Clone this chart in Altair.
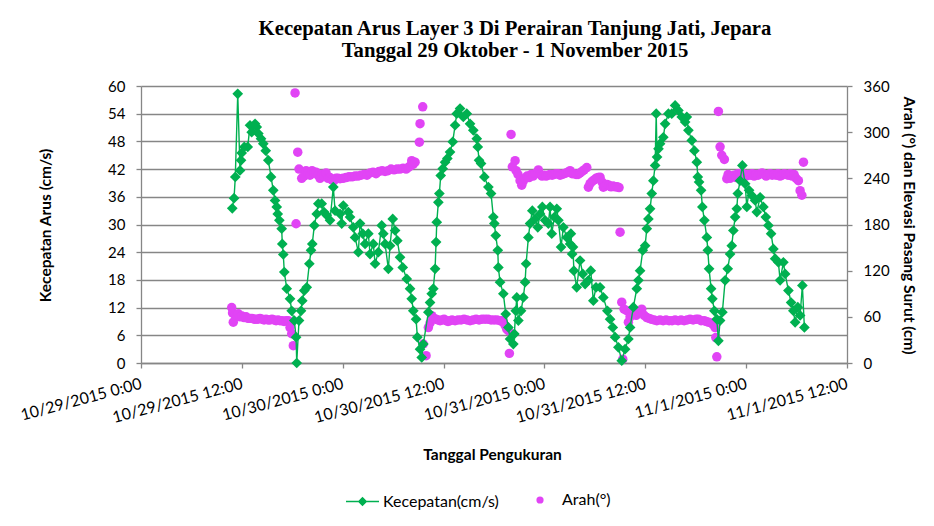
import altair as alt
import pandas as pd

TITLE_1 = "Kecepatan Arus Layer 3 Di Perairan Tanjung Jati, Jepara"
TITLE_2 = "Tanggal 29 Oktober - 1 November 2015"
X_TITLE = "Tanggal Pengukuran"
Y_LEFT_TITLE = "Kecepatan Arus (cm/s)"
Y_RIGHT_TITLE = "Arah (°) dan Elevasi Pasang Surut (cm)"
SERIES = ["Kecepatan(cm/s)", "Arah(°)"]
START = "2015-10-29 00:00"
X_TICK_HOURS = [0, 12, 24, 36, 48, 60, 72, 84]
LEFT_TICKS = list(range(0, 61, 6))
RIGHT_TICKS = list(range(0, 361, 60))

# hours since 10/29/2015 0:00 and current speed (cm/s)
speed_hours = [
    10.86, 11.07, 11.22, 11.51, 11.78, 11.90, 11.98, 12.29, 12.70, 12.97,
    13.17, 13.57, 13.77, 13.96, 14.28, 14.55, 14.84, 15.15, 15.47, 15.74,
    15.95, 16.15, 16.27, 16.46, 16.74, 16.81, 16.93, 17.05, 17.34, 17.73,
    17.93, 18.24, 18.45, 18.53, 18.80, 19.04, 19.19, 19.43, 19.72, 20.03,
    20.23, 20.38, 20.62, 20.91, 21.10, 21.50, 21.78, 22.10, 22.49, 22.88,
    23.09, 23.68, 23.88, 24.07, 24.67, 24.87, 25.26, 25.47, 25.86, 26.06,
    26.38, 26.66, 27.05, 27.25, 27.64, 27.85, 28.24, 28.64, 28.83, 29.04,
    29.43, 29.63, 29.95, 30.23, 30.50, 30.82, 31.14, 31.62, 32.01, 32.21,
    32.40, 32.73, 32.88, 33.20, 33.40, 33.59, 34.19, 34.39, 34.59, 34.78,
    34.99, 35.11, 35.19, 35.38, 35.50, 35.66, 35.90, 36.18, 36.45, 36.77,
    37.09, 37.37, 37.57, 37.96, 38.35, 38.76, 39.15, 39.54, 39.95, 40.07,
    40.22, 40.46, 40.85, 41.33, 41.65, 41.92, 42.04, 42.21, 42.45, 42.52,
    42.72, 43.11, 43.40, 43.71, 43.91, 44.30, 44.42, 44.59, 44.71, 44.90,
    45.22, 45.49, 45.70, 45.82, 46.09, 46.29, 46.56, 46.89, 47.21, 47.48,
    47.75, 48.08, 48.47, 48.67, 48.87, 49.18, 49.47, 49.66, 49.98, 50.25,
    50.66, 51.05, 51.15, 51.30, 51.40, 51.50, 51.84, 52.24, 52.56, 52.84,
    53.23, 53.51, 53.82, 54.14, 54.62, 55.01, 55.49, 55.81, 56.13, 56.41,
    56.80, 57.20, 57.60, 57.99, 58.19, 58.58, 58.99, 59.18, 59.38, 59.70,
    59.98, 60.18, 60.37, 60.57, 60.77, 60.96, 61.17, 61.30, 61.40, 61.57,
    61.76, 62.15, 62.36, 62.75, 63.15, 63.55, 63.94, 64.34, 64.74, 64.94,
    65.13, 65.53, 65.84, 66.13, 66.25, 66.40, 66.64, 66.79, 67.03, 67.32,
    67.44, 67.59, 67.83, 67.98, 68.22, 68.51, 68.70, 68.90, 69.17, 69.50,
    69.81, 70.09, 70.29, 70.48, 70.69, 70.89, 71.01, 71.28, 71.55, 71.88,
    72.08, 72.35, 72.67, 73.07, 73.27, 73.66, 74.05, 74.34, 74.65, 74.97,
    75.24, 75.45, 75.84, 76.04, 76.43, 76.64, 77.03, 77.35, 77.62, 77.83,
    78.15, 78.42, 78.69, 78.93,
]
speed_values = [
    33.5, 35.7, 40.3, 58.3, 41.7, 43.9, 45.5, 46.8, 46.8, 51.5,
    50.0, 51.8, 51.1, 49.7, 48.6, 47.5, 46.0, 43.9, 40.3, 37.4,
    35.2, 33.8, 32.3, 30.9, 29.1, 25.8, 23.5, 19.7, 16.1, 13.9,
    11.3, 9.2, 5.6, 0.0, 9.2, 11.3, 13.5, 15.7, 16.4, 21.5,
    24.4, 25.8, 29.8, 32.3, 34.5, 34.5, 32.7, 32.0, 30.9, 38.1,
    33.0, 32.3, 30.2, 34.1, 32.7, 31.6, 29.4, 27.2, 24.0, 30.2,
    28.0, 25.8, 28.0, 23.6, 25.8, 21.5, 24.0, 29.8, 28.0, 25.8,
    20.4, 25.4, 31.2, 28.7, 26.5, 22.9, 20.7, 18.2, 16.1, 13.9,
    11.3, 9.5, 5.6, 3.0, 1.2, 4.1, 11.0, 13.1, 15.0, 16.1,
    20.4, 26.2, 30.5, 34.8, 36.7, 40.6, 42.1, 43.5, 44.3, 45.7,
    47.9, 51.5, 54.0, 55.1, 53.3, 54.0, 51.8, 50.4, 48.6, 46.8,
    43.9, 43.2, 40.3, 38.1, 36.7, 31.6, 30.2, 27.6, 24.4, 20.7,
    17.5, 15.0, 10.6, 7.7, 5.2, 4.1, 6.3, 11.3, 14.2, 9.2,
    11.3, 14.2, 17.5, 21.5, 27.2, 30.2, 33.0, 31.2, 29.4, 32.3,
    33.8, 30.9, 30.2, 33.8, 28.0, 31.6, 33.4, 30.9, 25.1, 29.4,
    27.2, 25.8, 28.0, 23.6, 25.1, 20.0, 16.4, 22.2, 19.3, 17.1,
    17.9, 20.0, 13.5, 16.4, 16.4, 14.2, 11.3, 9.5, 7.7, 5.6,
    3.4, 0.5, 3.0, 5.2, 7.7, 12.1, 16.1, 17.9, 20.0, 24.4,
    25.4, 29.1, 31.2, 33.4, 36.7, 39.5, 42.8, 54.0, 44.6, 46.4,
    47.5, 48.9, 51.8, 54.0, 54.0, 55.8, 54.7, 53.3, 52.2, 53.3,
    50.4, 48.2, 46.0, 43.5, 40.3, 39.2, 37.4, 33.8, 30.9, 27.2,
    24.4, 20.4, 16.1, 13.9, 11.3, 9.5, 4.8, 9.2, 11.0, 17.9,
    20.4, 23.6, 25.4, 28.7, 31.6, 33.4, 36.7, 39.5, 42.8, 38.8,
    33.8, 37.4, 36.3, 35.2, 32.7, 35.9, 33.8, 31.6, 29.8, 28.0,
    24.7, 22.6, 21.8, 17.9, 21.8, 19.3, 15.7, 13.1, 11.3, 8.8,
    12.1, 10.3, 16.8, 7.7,
]

# hours since 10/29/2015 0:00 and current direction (degrees)
dir_hours = [
    10.79, 10.89, 10.98, 11.19, 11.42, 11.58, 11.78, 12.02, 12.26, 12.50,
    12.73, 12.97, 13.21, 13.45, 13.69, 13.92, 14.16, 14.40, 14.64, 14.88,
    15.11, 15.35, 15.59, 15.83, 16.07, 16.30, 16.54, 16.78, 17.02, 17.26,
    17.53, 17.73, 17.93, 18.12,
    18.33, 18.45, 18.65, 18.80, 19.12, 19.40, 19.64, 19.87, 20.11, 20.35,
    20.59, 20.83, 21.06, 21.30, 21.54, 21.78, 22.02, 22.25, 22.49, 22.73,
    22.97, 23.20, 23.44, 23.68, 24.04, 24.40, 24.75, 25.11, 25.47, 25.82,
    26.18, 26.54, 26.89, 27.25, 27.61, 27.96, 28.32, 28.68, 29.04, 29.39,
    29.75, 30.11, 30.46, 30.82, 31.18, 31.54, 31.77, 32.01, 32.21, 32.37,
    32.61, 33.12, 33.20, 33.52,
    33.59, 33.92, 34.19, 34.39, 34.59, 34.87, 35.11, 35.34, 35.58, 35.82,
    36.06, 36.30, 36.53, 36.77, 37.01, 37.37, 37.72, 38.08, 38.44, 38.79,
    39.15, 39.51, 39.87, 40.22, 40.58, 40.94, 41.29, 41.65, 42.01, 42.36,
    42.72, 42.92, 43.08, 43.32, 43.52, 43.71, 43.83,
    44.03, 44.18, 44.51, 44.63, 44.86, 45.10, 45.30, 45.46, 45.70, 45.93,
    46.17, 46.41, 46.65, 46.89, 47.28, 47.48, 47.72, 47.96, 48.20, 48.43,
    48.67, 48.91, 49.15, 49.39, 49.62, 49.86, 50.10, 50.34, 50.58, 50.81,
    51.05, 51.29, 51.53, 51.77, 52.00, 52.24, 52.48, 52.72, 53.04, 53.23,
    53.43, 53.67, 53.91, 54.14, 54.38, 54.62, 54.86, 55.01, 55.22, 55.45,
    55.69, 55.93, 56.17, 56.41, 56.64, 56.88, 57.00,
    57.20, 57.32, 57.48, 57.80, 57.99, 58.19, 58.58, 58.91, 59.14, 59.38,
    59.58, 59.86, 60.18, 60.45, 60.69, 61.05, 61.37, 61.76, 62.12, 62.47,
    62.83, 63.19, 63.55, 63.90, 64.26, 64.62, 64.97, 65.33, 65.69, 66.05,
    66.32, 66.64, 67.00, 67.24, 67.51, 67.83, 68.07, 68.31, 68.39, 68.51,
    68.70, 68.90, 69.10, 69.41, 69.70, 69.85, 70.09, 70.33, 70.57, 70.81,
    71.04, 71.28, 71.52, 71.76, 71.99, 72.23, 72.47, 72.71, 72.95, 73.19,
    73.42, 73.66, 73.90, 74.14, 74.38, 74.61, 74.85, 75.09, 75.33, 75.57,
    75.80, 76.04, 76.28, 76.52, 76.76, 76.99, 77.23, 77.47, 77.71, 77.95,
    78.22, 78.42, 78.63, 78.82,
]
dir_values = [
    72, 65, 53, 62, 62, 64, 60, 61, 59, 60,
    58, 58, 58, 57, 57, 57, 58, 57, 56, 57,
    56, 56, 57, 56, 55, 56, 55, 55, 54, 55,
    55, 46, 38, 22.5,
    351, 181, 274, 252, 240, 243, 250, 246, 244, 250,
    247, 248, 244, 240, 245, 243, 247, 240, 241, 238,
    237, 240, 240, 239.5, 240, 241, 242, 242, 243, 243,
    244, 245, 244, 247, 248, 246, 249, 250, 249, 250,
    252, 251, 252, 252, 253, 252, 254, 256, 263, 258,
    261, 287, 311, 333,
    24.7, 9.5, 46, 52, 61.5, 58, 57, 56, 55, 56,
    57, 55, 54, 55, 56, 55, 56, 56, 57, 56,
    55, 56, 57, 56, 57, 57, 57, 56, 56, 56,
    55, 55, 53, 49, 44, 42, 12.5,
    297, 255, 263, 250, 245, 237, 231, 236, 240, 243,
    241, 245, 243, 246, 251, 245, 243, 244, 243, 244,
    245, 244, 245, 246, 246, 244, 245, 246, 247, 248,
    250, 246, 246, 245, 245, 247, 249, 251, 254, 228.5,
    233, 236, 238, 240, 241, 241.5, 235, 228.5, 230, 232,
    231, 229, 230, 229, 229, 228, 170,
    79, 5, 70, 68, 53, 60, 68, 62, 65, 66,
    70, 62, 59, 58, 57, 56, 55, 56, 55, 56,
    55, 55, 56, 55, 56, 55, 56, 57, 56, 57,
    57, 55, 55, 54, 53, 52, 50, 46, 33, 8,
    327, 281, 270, 264.6, 239.5, 245, 240, 243, 244, 241,
    246, 243, 247, 244, 243, 245, 244, 246, 243, 245,
    244, 246, 247, 245, 243, 245, 246, 244, 245, 244,
    246, 243, 244, 246, 245, 244, 246, 243, 245, 240,
    237, 224, 218, 261,
]

assert len(speed_hours) == len(speed_values)
assert len(dir_hours) == len(dir_values)

GREEN = "#00B050"
MAGENTA = "#E144F5"
AXIS_GRAY = "#868686"
FONT = "Lato"
# legend symbol: a short line with a diamond on it
LINE_DIAMOND = "M-1,0L1,0M-0.22,0L0,-0.22L0.22,0L0,0.22Z"

base = pd.Timestamp(START)


def times(hours):
    return pd.Series(base + pd.to_timedelta(hours, unit="h")).dt.round("s")


speed_df = pd.DataFrame({"t": times(speed_hours), "v": speed_values, "s": SERIES[0]})
dir_df = pd.DataFrame({"t": times(dir_hours), "v": dir_values, "s": SERIES[1]})


def dt(h):
    ts = base + pd.Timedelta(hours=h)
    return alt.DateTime(year=ts.year, month=ts.month, date=ts.day, hours=ts.hour)


x_enc = alt.X(
    "t:T",
    scale=alt.Scale(domain=[dt(X_TICK_HOURS[0]), dt(X_TICK_HOURS[-1])]),
    axis=alt.Axis(
        values=[dt(h) for h in X_TICK_HOURS],
        format="%-m/%-d/%Y %-H:%M",
        labelAngle=345,
        labelAlign="right",
        labelBaseline="middle",
        labelPadding=15,
        labelFontSize=16,
        labelFlush=False,
        labelOverlap=False,
        labelBound=False,
        tickSize=5,
        grid=False,
        title=X_TITLE,
        titleX=351,
        titleY=91,
        titleBaseline="middle",
        titleAlign="center",
    ),
)

y_left = alt.Y(
    "v:Q",
    scale=alt.Scale(domain=[0, 60], nice=False),
    axis=alt.Axis(
        orient="left",
        values=LEFT_TICKS,
        grid=True,
        tickSize=5,
        labelPadding=11,
        title=Y_LEFT_TITLE,
        titleAngle=270,
        titleX=-96,
        titleY=139,
        titleBaseline="middle",
        titleAlign="center",
    ),
)

y_right = alt.Y(
    "v:Q",
    scale=alt.Scale(domain=[0, 360], nice=False),
    axis=alt.Axis(
        orient="right",
        values=RIGHT_TICKS,
        grid=False,
        tickSize=5,
        labelPadding=11,
        title=Y_RIGHT_TITLE,
        titleAngle=90,
        titleX=61,
        titleY=139,
        titleBaseline="middle",
        titleAlign="center",
    ),
)

legend_speed = alt.Legend(
    orient="none",
    legendX=204,
    legendY=398,
    title=None,
    labelFont=FONT,
    labelFontSize=16,
    labelColor="black",
    symbolType=LINE_DIAMOND,
    symbolSize=1089,
    symbolStrokeColor=GREEN,
    symbolFillColor=GREEN,
    symbolStrokeWidth=1.6,
    symbolOpacity=1,
    labelOffset=3,
    padding=0,
)
legend_dir = alt.Legend(
    orient="none",
    legendX=391,
    legendY=406,
    title=None,
    labelFont=FONT,
    labelFontSize=16,
    labelColor="black",
    symbolType="circle",
    symbolSize=52,
    symbolStrokeWidth=0,
    symbolOpacity=1,
    labelOffset=14,
    padding=0,
)

dir_layer = alt.Chart(dir_df).mark_point(shape="circle", filled=True, opacity=1, size=90).encode(
    x=x_enc,
    y=y_right,
    fill=alt.Fill("s:N", scale=alt.Scale(domain=[SERIES[1]], range=[MAGENTA]), legend=legend_dir),
)
speed_line = alt.Chart(speed_df).mark_line(color=GREEN, strokeWidth=1.4).encode(x=x_enc, y=y_left)
speed_pts = alt.Chart(speed_df).mark_point(shape="diamond", filled=True, opacity=1, size=115).encode(
    x=x_enc,
    y=y_left,
    color=alt.Color("s:N", scale=alt.Scale(domain=[SERIES[0]], range=[GREEN]), legend=legend_speed),
)
speed_layer = alt.layer(speed_line, speed_pts)

chart = (
    alt.layer(dir_layer, speed_layer)
    .resolve_scale(y="independent")
    .properties(
        width=706,
        height=277,
        padding={"left": 133, "top": 78, "right": 79, "bottom": 150},
        autosize=alt.AutoSizeParams(type="none"),
        background="white",
        title=alt.TitleParams(
            text=[TITLE_1, TITLE_2],
            font="Liberation Serif",
            fontSize=20.7,
            fontWeight="bold",
            color="black",
            anchor="middle",
            frame="group",
            dx=21,
            offset=17,
            lineHeight=22,
        ),
    )
    .configure_view(stroke=None)
    .configure_axis(
        domainColor=AXIS_GRAY,
        domainWidth=1.3,
        tickColor=AXIS_GRAY,
        tickWidth=1.3,
        gridColor=AXIS_GRAY,
        gridWidth=1.4,
        labelFont=FONT,
        labelFontSize=15,
        labelColor="black",
        titleFont=FONT,
        titleFontSize=15.5,
        titleFontWeight="bold",
        titleColor="black",
    )
)

chart.save("out.html", embed_options={"renderer": "svg", "actions": False})
